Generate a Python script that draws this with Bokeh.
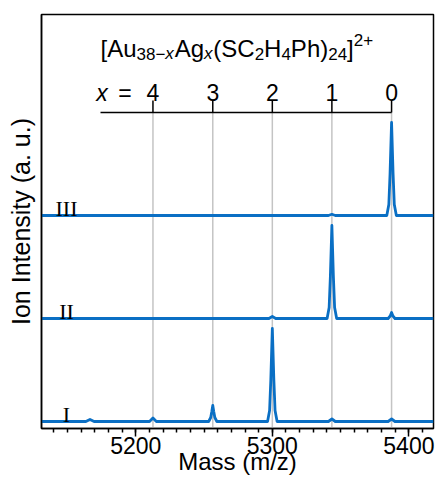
from bokeh.plotting import figure
from bokeh.models import ColumnDataSource, Range1d, SingleIntervalTicker, FixedTicker
from bokeh.core.properties import value
from bokeh.embed import file_html
from bokeh.resources import INLINE

# ---------------- data ----------------
trace_labels = ["I", "II", "III"]
trace_offsets = [0.0, 1.03, 2.06]

mass_I = [5131, 5163.5, 5166.5, 5169.5, 5210.1, 5212.6, 5215.1,
          5253.4, 5254.9, 5255.7, 5256.4, 5257.1, 5257.9, 5259.4,
          5296.5, 5298.0, 5298.9, 5300.0, 5301.1, 5302.0, 5303.5,
          5341.1, 5343.6, 5346.1, 5384.8, 5387.3, 5389.8, 5418]
int_I = [0, 0, 0.02, 0, 0, 0.035, 0,
         0, 0.04, 0.10, 0.16, 0.10, 0.04, 0,
         0, 0.11, 0.42, 0.93, 0.42, 0.11, 0,
         0, 0.025, 0, 0, 0.025, 0, 0]

mass_II = [5131, 5297.5, 5300.0, 5302.5,
           5340.1, 5341.6, 5342.5, 5343.6, 5344.7, 5345.6, 5347.1,
           5384.8, 5386.3, 5387.3, 5388.3, 5389.8, 5418]
int_II = [0, 0, 0.02, 0,
          0, 0.11, 0.42, 0.93, 0.42, 0.11, 0,
          0, 0.025, 0.06, 0.025, 0, 0]

mass_III = [5131, 5341.1, 5343.6, 5346.1,
            5383.8, 5385.3, 5386.2, 5387.3, 5388.4, 5389.3, 5390.8, 5418]
int_III = [0, 0, 0.012, 0,
           0, 0.11, 0.42, 0.93, 0.42, 0.11, 0, 0]

ag_count = [4, 3, 2, 1, 0]
ag_mass = [5212.6, 5256.4, 5300.0, 5343.6, 5387.3]

# ---------------- styling constants ----------------
BLUE = "#0a6fc4"
SANS = "Liberation Sans"
SERIF = "Liberation Serif"
X0, X1 = 5131, 5418
Y0, Y1 = -0.07, 4.07
TOP_AXIS_Y = 3.09
TOP_TICK_Y = 3.21
TOP_LABEL_Y = 3.29
TITLE_Y = 3.73
TOP_AXIS_START = 5174.2
TRACE_LABEL_X = 5149.3

p = figure(width=435, height=480, x_range=Range1d(X0, X1), y_range=Range1d(Y0, Y1),
           output_backend="svg", toolbar_location=None,
           min_border_left=41, min_border_right=2, min_border_top=14, min_border_bottom=52)
p.background_fill_color = "white"
p.border_fill_color = "white"
p.outline_line_color = "black"
p.outline_line_width = 1.5
p.outline_line_alpha = 1.0
p.xgrid.visible = False
p.ygrid.visible = False

xa = p.xaxis[0]
xa.ticker = SingleIntervalTicker(interval=100, num_minor_ticks=10)
xa.major_tick_in = 0
xa.major_tick_out = 8
xa.minor_tick_in = 0
xa.minor_tick_out = 4
xa.axis_line_width = 1.5
xa.major_tick_line_width = 1.5
xa.minor_tick_line_width = 1.5
xa.axis_line_color = "black"
xa.major_tick_line_color = "black"
xa.minor_tick_line_color = "black"
xa.major_label_text_font = SANS
xa.major_label_text_font_size = "23px"
xa.major_label_text_color = "black"
xa.major_label_standoff = 0
xa.axis_label = "Mass (m/z)"
xa.axis_label_text_font = SANS
xa.axis_label_text_font_size = "24px"
xa.axis_label_text_font_style = "normal"
xa.axis_label_text_color = "black"
xa.axis_label_standoff = -9

ya = p.yaxis[0]
ya.ticker = FixedTicker(ticks=[])
ya.major_tick_out = 0
ya.major_tick_in = 0
ya.minor_tick_out = 0
ya.minor_tick_in = 0
ya.major_label_text_font_size = "0px"
ya.axis_line_width = 1.5
ya.axis_line_color = "black"
ya.axis_label = "Ion Intensity (a. u.)"
ya.axis_label_text_font = SANS
ya.axis_label_text_font_size = "25px"
ya.axis_label_text_font_style = "normal"
ya.axis_label_text_color = "black"
ya.axis_label_standoff = 7

# grid lines at the x positions
p.segment(x0=ag_mass, y0=[Y0] * len(ag_mass), x1=ag_mass, y1=[TOP_AXIS_Y] * len(ag_mass),
          line_color="#c4c4c4", line_width=1.5)

# spectra
for mass, inten, off in zip([mass_I, mass_II, mass_III], [int_I, int_II, int_III], trace_offsets):
    p.line(mass, [v + off for v in inten], line_color=BLUE, line_width=2.8, line_join="round")

# trace labels
p.text(x=[TRACE_LABEL_X] * 3, y=[o + 0.07 for o in trace_offsets], text=trace_labels,
       text_font=value(SERIF), text_font_size="22px", text_align="center",
       text_baseline="alphabetic", text_color="black")

# top x-count axis
p.segment(x0=[TOP_AXIS_START], y0=[TOP_AXIS_Y], x1=[ag_mass[-1]], y1=[TOP_AXIS_Y],
          line_color="black", line_width=1.5)
p.segment(x0=ag_mass, y0=[TOP_AXIS_Y] * 5, x1=ag_mass, y1=[TOP_TICK_Y] * 5,
          line_color="black", line_width=1.5)
p.text(x=ag_mass, y=[TOP_LABEL_Y] * 5, text=[str(n) for n in ag_count],
       text_font=value(SANS), text_font_size="23px", text_align="center",
       text_baseline="alphabetic", text_color="black")
p.text(x=[ag_mass[0], ag_mass[0]], y=[TOP_LABEL_Y] * 2, text=["x", "="],
       x_offset=[-51, -28], text_font=value(SANS), text_font_size="23px",
       text_font_style=["italic", "normal"], text_align="center",
       text_baseline="alphabetic", text_color="black")

# title [Au38-xAgx(SC2H4Ph)24]2+ built from pieces
W = {" ": 278, "(": 333, ")": 333, "+": 584, "\u2212": 584, "=": 584, "A": 667, "C": 722,
     "H": 722, "P": 667, "S": 667, "[": 278, "]": 278, "g": 556, "h": 556, "u": 556, "x": 500}
for d in "0123456789":
    W[d] = 556
pieces = [("[Au", "m", "normal"), ("38\u2212", "s", "normal"), ("x", "s", "italic"),
          ("Ag", "m", "normal"), ("x", "s", "italic"), ("(SC", "m", "normal"),
          ("2", "s", "normal"), ("H", "m", "normal"), ("4", "s", "normal"),
          ("Ph)", "m", "normal"), ("24", "s", "normal"), ("]", "m", "normal"),
          ("2+", "S", "normal")]
size = {"m": 24, "s": 17, "S": 17}
dy = {"m": 0.0, "s": -0.05, "S": 0.085}
tx, ty, tt, tsz, tst, tof = [], [], [], [], [], []
cur = 0.0
for txt, kind, style in pieces:
    tx.append(TOP_AXIS_START)
    ty.append(TITLE_Y + dy[kind])
    tt.append(txt)
    tsz.append(f"{size[kind]}px")
    tst.append(style)
    tof.append(cur)
    cur += sum(W[c] for c in txt) / 1000.0 * size[kind] + (0.8 if style == "italic" else 0)
src = ColumnDataSource(dict(x=tx, y=ty, text=tt, size=tsz, style=tst, off=tof))
p.text(x="x", y="y", text="text", x_offset="off", text_font_size="size",
       text_font_style="style", text_font=value(SANS), text_align="left",
       text_baseline="alphabetic", text_color="black", source=src)

open("out.html", "w").write(file_html(p, INLINE))
